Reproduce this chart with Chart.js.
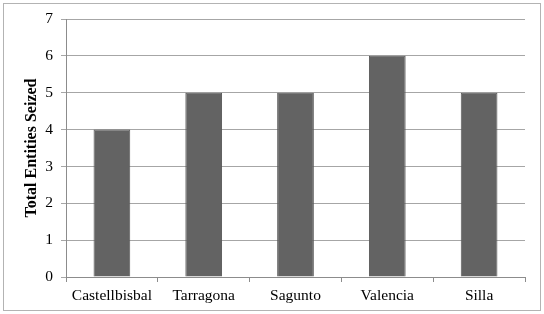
<!DOCTYPE html>
<html>
<head>
<meta charset="utf-8">
<script src="https://cdn.jsdelivr.net/npm/chart.js@4/dist/chart.umd.min.js"></script>
<style>
  html, body { margin: 0; padding: 0; background: #fff; }
  #wrap { width: 544px; height: 314px; position: relative; }
</style>
</head>
<body>
<div id="wrap"><canvas id="chart"></canvas></div>
<script>
// values
const sites = ['Castellbisbal', 'Tarragona', 'Sagunto', 'Valencia', 'Silla'];
const seized = [4, 5, 5, 6, 5];
const yTicks = [0, 1, 2, 3, 4, 5, 6, 7];

const frame = {
  id: 'frame',
  beforeDraw(chart) {
    const ctx = chart.ctx;
    ctx.save();
    ctx.fillStyle = '#fff';
    ctx.fillRect(0, 0, chart.width, chart.height);
    ctx.strokeStyle = '#b3b3b3';
    ctx.lineWidth = 1;
    ctx.strokeRect(3.5, 3.5, chart.width - 7, chart.height - 7);
    ctx.restore();
  }
};

Chart.defaults.font.family = "'Liberation Serif', 'DejaVu Serif', serif";
Chart.defaults.color = '#000';

new Chart(document.getElementById('chart'), {
  type: 'bar',
  data: {
    labels: sites,
    datasets: [{
      label: 'Total Entities Seized',
      data: seized,
      backgroundColor: '#636363',
      borderColor: '#595959',
      borderWidth: 1,
      barPercentage: 0.4,
      categoryPercentage: 1
    }]
  },
  options: {
    responsive: true,
    maintainAspectRatio: false,
    animation: false,
    layout: { padding: { left: 22, right: 19, top: 19, bottom: 0 } },
    plugins: { legend: { display: false }, tooltip: { enabled: false } },
    scales: {
      x: {
        grid: { drawOnChartArea: false, color: '#8c8c8c', tickLength: 5, offset: true },
        border: { color: '#8c8c8c' },
        ticks: { font: { size: 15.5 }, padding: 5 },
        afterFit(s) { s.height = 37; }
      },
      y: {
        min: 0,
        max: 7,
        afterBuildTicks(s) { s.ticks = yTicks.map(v => ({ value: v })); },
        grid: { color: '#a6a6a6', tickLength: 5 },
        border: { color: '#8c8c8c' },
        ticks: { font: { size: 15.5 }, padding: 8 },
        title: { display: true, text: 'Total Entities Seized', font: { size: 16, weight: 'bold' }, padding: 0 },
        afterFit(s) { s.width = 44; }
      }
    }
  },
  plugins: [frame]
});
</script>
</body>
</html>
